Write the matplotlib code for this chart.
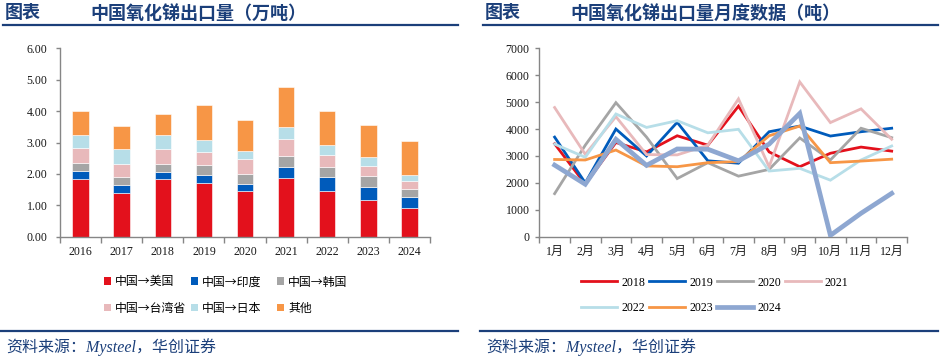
import matplotlib
matplotlib.use("Agg")
import matplotlib.pyplot as plt
import numpy as np
from matplotlib.patches import Patch
from matplotlib.lines import Line2D

# ---------------- data ----------------
years = ["2016", "2017", "2018", "2019", "2020", "2021", "2022", "2023", "2024"]
dest_labels = ["中国→美国", "中国→印度", "中国→韩国", "中国→台湾省", "中国→日本", "其他"]
usa    = [1.83, 1.40, 1.83, 1.70, 1.45, 1.86, 1.44, 1.16, 0.92]
india  = [0.25, 0.26, 0.22, 0.26, 0.23, 0.35, 0.47, 0.43, 0.34]
korea  = [0.26, 0.23, 0.25, 0.32, 0.31, 0.37, 0.30, 0.33, 0.25]
taiwan = [0.47, 0.43, 0.49, 0.43, 0.47, 0.54, 0.40, 0.32, 0.25]
japan  = [0.43, 0.46, 0.45, 0.38, 0.27, 0.36, 0.31, 0.29, 0.21]
others = [0.75, 0.73, 0.68, 1.09, 1.00, 1.29, 1.09, 1.03, 1.07]

months = ["1月", "2月", "3月", "4月", "5月", "6月", "7月", "8月", "9月", "10月", "11月", "12月"]
series_years = ["2018", "2019", "2020", "2021", "2022", "2023", "2024"]
m2018 = [3450, 1950, 3500, 3150, 3750, 3400, 4850, 3150, 2600, 3100, 3330, 3180]
m2019 = [3700, 2000, 4000, 3000, 4250, 2820, 2730, 3900, 4110, 3740, 3900, 4030]
m2020 = [1600, 3400, 4980, 3700, 2160, 2750, 2250, 2500, 3670, 2850, 4030, 3680]
m2021 = [4800, 3060, 4460, 3050, 3040, 3400, 5120, 2600, 5750, 4240, 4750, 3620]
m2022 = [3440, 2950, 4560, 4060, 4310, 3860, 3990, 2440, 2540, 2100, 2850, 3370]
m2023 = [2870, 2850, 3220, 2630, 2600, 2750, 2790, 3750, 4110, 2750, 2810, 2880]
m2024 = [2660, 1950, 3620, 2650, 3260, 3250, 2820, 3440, 4580, 50, 870, 1610]

# ---------------- style ----------------
navy = "#1B3F7A"
spine_c = "#868686"
bar_colors = ["#E3111C", "#005BBB", "#A5A5A5", "#E8B9BB", "#B7DEE8", "#F79646"]
line_colors = ["#E3111C", "#005BBB", "#A5A5A5", "#E8B9BB", "#B7DEE8", "#F79646", "#8EA7D1"]
line_widths = [2.0, 2.0, 2.0, 2.0, 2.0, 2.0, 3.4]

cjk = ["Noto Sans CJK SC", "DejaVu Sans"]
num_font = ["Liberation Serif", "Noto Sans CJK SC"]
plt.rcParams["font.family"] = cjk

W, H = 945, 358
fig = plt.figure(figsize=(W / 100, H / 100), dpi=100)


def fx(px):
    return px / W


def fy(py):
    return 1 - py / H


# titles and rules
for x0, x1, title in [(3, 458, "中国氧化锑出口量（万吨）"), (483, 938, "中国氧化锑出口量月度数据（吨）")]:
    fig.text(fx(x0 + 2), fy(13), "图表", color=navy, fontsize=13, fontweight="bold",
             va="center", ha="left", family=cjk)
    fig.text(fx(x0 + 87), fy(13), title, color=navy, fontsize=13, fontweight="bold",
             va="center", ha="left", family=cjk)
    fig.add_artist(Line2D([fx(x0), fx(x1)], [fy(25), fy(25)], color=navy, lw=1.6))
    fig.add_artist(Line2D([fx(x0 - 3), fx(x1)], [fy(331), fy(331)], color=navy, lw=1.6))
    fig.text(fx(x0 + 3), fy(347), "资料来源：Mysteel，华创证券", color=navy, fontsize=11.5,
             va="center", ha="left", family=["Liberation Serif", "Noto Sans CJK SC"], style="italic")


def style_axes(ax, n):
    for s in ["top", "right"]:
        ax.spines[s].set_visible(False)
    for s in ["left", "bottom"]:
        ax.spines[s].set_color(spine_c)
        ax.spines[s].set_linewidth(1.0)
    ax.set_xlim(-0.5, n - 0.5)
    ax.set_xticks(np.arange(n))
    ax.set_xticks(np.arange(n + 1) - 0.5, minor=True)
    ax.tick_params(axis="x", which="major", length=0, pad=7, labelsize=8.6, labelcolor="#1a1a1a")
    ax.tick_params(axis="x", which="minor", length=4, color=spine_c, direction="out", width=1.0)
    ax.tick_params(axis="y", which="major", length=3, color=spine_c, direction="out", width=1.0,
                   labelsize=8.6, labelcolor="#1a1a1a")
    for lab in ax.get_xticklabels() + ax.get_yticklabels():
        lab.set_family(num_font)


# ---------------- left: stacked bars ----------------
ax1 = fig.add_axes([fx(60), fy(236.7), fx(430) - fx(60), fy(48.3) - fy(236.7)])
x = np.arange(len(years))
stack = [usa, india, korea, taiwan, japan, others]
bottom = np.zeros(len(years))
handles1 = []
for vals, col, lab in zip(stack, bar_colors, dest_labels):
    ax1.bar(x, vals, width=0.4, bottom=bottom, color=col, edgecolor="white", linewidth=0.4,
            label=lab, zorder=2)
    bottom = bottom + np.array(vals)
    handles1.append(Patch(facecolor=col, edgecolor="none", label=lab))
ax1.set_ylim(0, 6)
ax1.set_yticks(np.arange(0, 7, 1))
ax1.set_yticklabels([f"{v:.2f}" for v in np.arange(0, 7, 1)])
ax1.set_xticklabels(years)
style_axes(ax1, len(years))
ax1.tick_params(axis="y", pad=6)

# legend in three fixed-width columns (grid like the original)
col_x = [104, 191, 277]
col_items = [[0, 3], [1, 4], [2, 5]]
for cx, items in zip(col_x, col_items):
    fig.legend([handles1[i] for i in items], [dest_labels[i] for i in items],
               ncol=1, loc="upper left", bbox_to_anchor=(fx(cx), fy(275.5)),
               frameon=False, handlelength=0.6, handleheight=0.6,
               handletextpad=0.35, labelspacing=1.1,
               borderaxespad=0, borderpad=0, prop={"family": cjk, "size": 8.6})

# ---------------- right: monthly lines ----------------
ax2 = fig.add_axes([fx(539.3), fy(236.7), fx(907) - fx(539.3), fy(48.3) - fy(236.7)])
xm = np.arange(len(months))
series = [m2018, m2019, m2020, m2021, m2022, m2023, m2024]
handles2 = []
for vals, col, lw, lab in zip(series, line_colors, line_widths, series_years):
    ax2.plot(xm, vals, color=col, lw=lw, label=lab, solid_joinstyle="miter", zorder=3)
    handles2.append(Line2D([0], [0], color=col, lw=lw, label=lab))
ax2.set_ylim(0, 7000)
ax2.set_yticks(np.arange(0, 7001, 1000))
ax2.set_xticklabels(months)
style_axes(ax2, len(months))
ax2.tick_params(axis="y", pad=4)
ax2.tick_params(axis="x", labelsize=8.6)

order2 = [0, 4, 1, 5, 2, 6, 3]
fig.legend([handles2[i] for i in order2], [series_years[i] for i in order2],
           ncol=4, loc="upper left", bbox_to_anchor=(fx(581), fy(276.5)),
           frameon=False, handlelength=3.0, handletextpad=0.35, columnspacing=0.35,
           labelspacing=1.15, borderaxespad=0, borderpad=0,
           prop={"family": num_font, "size": 8.6})

fig.savefig("out.png", dpi=100)
